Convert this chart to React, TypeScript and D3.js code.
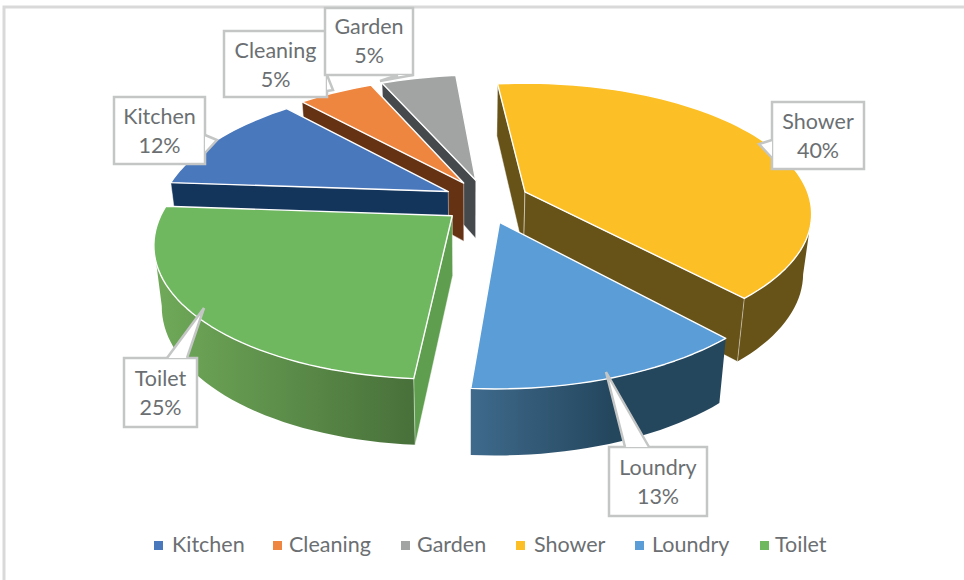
import React from "react";
import * as d3 from "d3";

const categories = ["Kitchen", "Cleaning", "Garden", "Shower", "Loundry", "Toilet"];
const values = [12, 5, 5, 40, 13, 25];
const topColors = ["#4a78bd", "#ee8640", "#a2a4a4", "#fcbf25", "#5b9dd6", "#6fb85f"];
const sideColors = ["#13345b", "#653314", "#46494b", "#675218", "#2a4f6b", "#5f9e4f"];
const gradients: (string[] | null)[] = [null, null, null, null, ["#3f6a8c", "#24475e"], ["#70aa59", "#48703a"]];
const drawOrder = ["Garden", "Cleaning", "Kitchen", "Shower", "Toilet", "Loundry"];
const legendMarkerX = [154, 273, 401, 516, 635, 760];
const legendTextX = [172, 289, 417, 534, 652, 775];
const calloutLayout = [
  { name: "Kitchen", box: [114, 97, 205, 164], tail: [[205, 135], [217, 140], [205, 153]], dy: 0 },
  { name: "Cleaning", box: [224, 31, 327, 97], tail: [[327, 75], [333, 90], [327, 91]], dy: 0 },
  { name: "Garden", box: [325, 8, 413, 75], tail: [[413, 75], [380, 81], [398, 75]], dy: -1 },
  { name: "Shower", box: [772, 102, 864, 169], tail: [[772, 140], [759, 144], [772, 158]], dy: 0 },
  { name: "Loundry", box: [609, 447, 707, 516], tail: [[625, 447], [606, 372], [649, 447]], dy: 1 },
  { name: "Toilet", box: [124, 358, 197, 427], tail: [[167, 358], [204, 308], [187, 358]], dy: 1 },
];

const FONT = "Lato, 'Open Sans', sans-serif";
const FS = 21.5;
const TEXT = "#6b6f72";
const X0 = 483, Y0 = 201, S = 286, T = 130, P = 0.17, EX = 0.15, EY = 0.17;

const rad = (d: number) => (d * Math.PI) / 180;
const pie = d3.pie<number>().sort(null).startAngle(rad(-85.9)).endAngle(rad(274.1));
const arcs = pie(values);
const lineGen = d3.line<[number, number]>();

function project(a: number, mid: number, r: number, depth: number): [number, number] {
  const u = EX * Math.sin(mid) + r * Math.sin(a);
  const v = -EY * Math.cos(mid) - r * Math.cos(a);
  const w = 1 - P * v;
  let x = X0 + (S * u) / w + 3 - 6.4 * v;
  let y = Y0 + (T * v) / w;
  if (depth) {
    y += depth * (59 + 6.5 * v);
    x -= depth * (x - 470) * 0.025;
  }
  return [x, y];
}

function arcPts(a0: number, a1: number, mid: number, depth: number) {
  const n = Math.max(2, Math.ceil(Math.abs(a1 - a0) / rad(2)));
  return d3.range(n + 1).map((i) => project(a0 + ((a1 - a0) * i) / n, mid, 1, depth));
}

function Slice({ idx }: { idx: number }) {
  const d = arcs[idx];
  const a0 = d.startAngle, a1 = d.endAngle;
  const mid = (a0 + a1) / 2;
  const apex = project(0, mid, 0, 0);
  const apexB = project(0, mid, 0, 1);
  const top = [apex, ...arcPts(a0, a1, mid, 0)];
  const side = sideColors[idx];
  const walls: React.ReactNode[] = [];
  const wall = (a: number, k: string) => {
    const p = project(a, mid, 1, 0), pb = project(a, mid, 1, 1);
    walls.push(
      <path key={k} d={lineGen([apex, p, pb, apexB])! + "Z"} fill={side} stroke="#ffffff" strokeOpacity={0.55} strokeWidth={0.8} />
    );
  };
  if (Math.sin(a0) < 0) wall(a0, "s");
  if (Math.sin(a1) > 0) wall(a1, "e");
  const o0 = Math.max(a0, rad(100)), o1 = Math.min(a1, rad(258));
  let outer: React.ReactNode = null;
  let grad: React.ReactNode = null;
  if (o1 > o0) {
    const pts = [...arcPts(o0, o1, mid, 0), ...arcPts(o1, o0, mid, 1)];
    const g = gradients[idx];
    let fill = side;
    if (g) {
      const x = d3.extent(pts.map((p) => p[0])) as [number, number];
      const id = "grad" + idx;
      grad = (
        <linearGradient id={id} gradientUnits="userSpaceOnUse" x1={x[0]} x2={x[1]} y1={0} y2={0}>
          <stop offset="0" stopColor={idx === 4 ? g[1] : g[0]} />
          <stop offset={idx === 4 ? "0.45" : "1"} stopColor={idx === 4 ? g[1] : g[1]} />
        </linearGradient>
      );
      if (idx === 4) {
        grad = (
          <linearGradient id={id} gradientUnits="userSpaceOnUse" x1={x[0]} x2={x[1]} y1={0} y2={0}>
            <stop offset="0" stopColor={g[0]} />
            <stop offset="0.55" stopColor={g[1]} />
          </linearGradient>
        );
      }
      fill = `url(#${id})`;
    }
    outer = <path d={lineGen(pts)! + "Z"} fill={fill} />;
  }
  return (
    <g>
      {grad && <defs>{grad}</defs>}
      {outer}
      {walls}
      <path d={lineGen(top)! + "Z"} fill={topColors[idx]} stroke="#ffffff" strokeWidth={1.4} strokeLinejoin="round" />
    </g>
  );
}

function Callout({ c }: { c: (typeof calloutLayout)[number] }) {
  const [x0, y0, x1, y1] = c.box;
  const i = categories.indexOf(c.name);
  const cx = (x0 + x1) / 2;
  const tail = c.tail as [number, number][];
  return (
    <g>
      <rect x={x0} y={y0} width={x1 - x0} height={y1 - y0} fill="#ffffff" stroke="#c4c6c6" strokeWidth={2.5} />
      <polygon points={tail.map((p) => p.join(",")).join(" ")} fill="#ffffff" />
      <path d={lineGen(tail)!} fill="none" stroke="#c4c6c6" strokeWidth={2.5} />
      <text x={cx} y={y0 + 27 + c.dy} textAnchor="middle" fontFamily={FONT} fontSize={FS} fill={TEXT}>{c.name}</text>
      <text x={cx} y={y0 + 56 + c.dy} textAnchor="middle" fontFamily={FONT} fontSize={FS} fill={TEXT}>{values[i]}%</text>
    </g>
  );
}

export default function App() {
  return (
    <svg width={964} height={580} viewBox="0 0 964 580" style={{ position: "absolute", left: 0, top: 0, background: "#fff" }}>
      <path d="M4,580 V7 H964" fill="none" stroke="#d9d9d9" strokeWidth={3} />
      {drawOrder.map((n) => <Slice key={n} idx={categories.indexOf(n)} />)}
      {calloutLayout.map((c) => <Callout key={c.name} c={c} />)}
      {categories.map((n, i) => (
        <g key={n}>
          <rect x={legendMarkerX[i]} y={541} width={9} height={9} fill={topColors[i]} />
          <text x={legendTextX[i]} y={552} fontFamily={FONT} fontSize={FS} fill={TEXT}>{n}</text>
        </g>
      ))}
    </svg>
  );
}
